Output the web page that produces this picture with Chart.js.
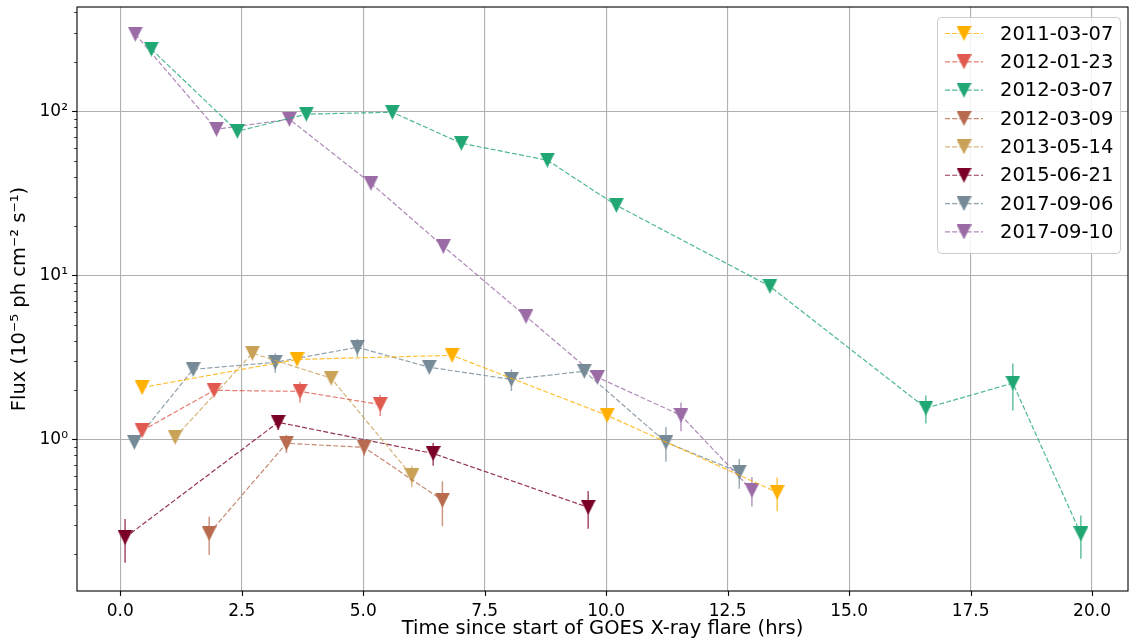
<!DOCTYPE html>
<html>
<head>
<meta charset="utf-8">
<script src="https://cdn.jsdelivr.net/npm/chart.js@4.4.1/dist/chart.umd.min.js"></script>
<style>
  html, body { margin: 0; padding: 0; background: #fff; }
  #wrap { width: 1129px; height: 641px; }
</style>
</head>
<body>
<div id="wrap"><canvas id="fluxChart"></canvas></div>
<script>
// flare dates and colours
const flareDates = ['2011-03-07', '2012-01-23', '2012-03-07', '2012-03-09',
                    '2013-05-14', '2015-06-21', '2017-09-06', '2017-09-10'];
const flareColors = ['#ffb000', '#e05a4f', '#20a774', '#b86b4e',
                     '#c9a257', '#7a0025', '#768a97', '#9b6ba6'];

// time since flare start (hrs), flux (1e-5 ph cm^-2 s^-1), flux error
const t20110307 = [0.45, 3.64, 6.83, 10.02, 13.52];
const f20110307 = [2.07, 3.07, 3.25, 1.40, 0.475];
const e20110307 = [0.08, 0.10, 0.10, 0.06, 0.11];

const t20120123 = [0.45, 1.93, 3.70, 5.35];
const f20120123 = [1.13, 1.99, 1.96, 1.63];
const e20120123 = [0.07, 0.10, 0.28, 0.24];

const t20120307 = [0.64, 2.41, 3.83, 5.60, 7.02, 8.79, 10.21, 13.37, 16.58, 18.37, 19.77];
const f20120307 = [239, 75.5, 96, 98.6, 63.8, 50.3, 26.7, 8.57, 1.55, 2.2, 0.265];
const e20120307 = [5, 2, 2, 2, 2, 1.5, 1, 0.5, 0.3, 0.7, 0.078];

const t20120309 = [1.83, 3.42, 5.02, 6.63];
const f20120309 = [0.267, 0.946, 0.894, 0.425];
const e20120309 = [0.07, 0.12, 0.10, 0.13];

const t20130514 = [1.13, 2.72, 4.34, 6.00];
const f20130514 = [1.03, 3.35, 2.36, 0.60];
const e20130514 = [0.05, 0.15, 0.10, 0.09];

const t20150621 = [0.10, 3.25, 6.44, 9.63];
const f20150621 = [0.252, 1.27, 0.82, 0.385];
const e20150621 = [0.075, 0.13, 0.13, 0.10];

const t20170906 = [0.29, 1.50, 3.19, 4.88, 6.36, 8.05, 9.55, 11.23, 12.74];
const f20170906 = [0.96, 2.67, 2.95, 3.64, 2.75, 2.32, 2.60, 0.96, 0.63];
const e20170906 = [0.06, 0.10, 0.40, 0.45, 0.15, 0.35, 0.15, 0.23, 0.13];

const t20170910 = [0.31, 1.98, 3.48, 5.16, 6.65, 8.35, 9.82, 11.54, 13.00];
const f20170910 = [295, 77.7, 89.4, 36.4, 15.0, 5.62, 2.39, 1.40, 0.489];
const e20170910 = [5, 2, 2, 1, 0.5, 0.2, 0.1, 0.28, 0.1];

const allTimes = [t20110307, t20120123, t20120307, t20120309, t20130514, t20150621, t20170906, t20170910];
const allFlux  = [f20110307, f20120123, f20120307, f20120309, f20130514, f20150621, f20170906, f20170910];
const allErr   = [e20110307, e20120123, e20120307, e20120309, e20130514, e20150621, e20170906, e20170910];

const xTickStep = 2.5;
const supDigits = {'-': '⁻', '0': '⁰', '1': '¹', '2': '²', '3': '³', '4': '⁴', '5': '⁵', '6': '⁶', '7': '⁷', '8': '⁸', '9': '⁹'};

function rgba(hex, a) {
    let r = parseInt(hex.slice(1, 3), 16);
    let g = parseInt(hex.slice(3, 5), 16);
    let b = parseInt(hex.slice(5, 7), 16);
    return `rgba(${r},${g},${b},${a})`
}

function markerImg(color, size) {
    let c = document.createElement('canvas');
    c.width = size; c.height = size;
    let g = c.getContext('2d');
    g.fillStyle = color;
    g.beginPath();
    g.moveTo(0, 0); g.lineTo(size, 0); g.lineTo(size / 2, size);
    g.closePath();
    g.fill();
    return c;
}

function isDecade(v) {
    let l = Math.log10(v);
    return Math.abs(l - Math.round(l)) < 1e-6;
}

const MSIZE = 15;
const markers = flareColors.map(c => markerImg(c, MSIZE));

const datasets = flareDates.map((d, i) => ({
    label: d,
    data: allTimes[i].map((t, j) => ({x: t, y: allFlux[i][j]})),
    errors: allErr[i],
    color: flareColors[i],
    marker: markers[i],
    borderColor: rgba(flareColors[i], 0.8),
    backgroundColor: flareColors[i],
    borderWidth: 1.2,
    borderDash: [5, 2.2],
    pointStyle: markers[i],
    pointRadius: 7.5,
    pointHoverRadius: 7.5,
    tension: 0,
    fill: false
}));

// vertical error bars, drawn under the lines and markers
const errorBars = {
    id: 'errorBars',
    beforeDatasetsDraw(chart) {
        const {ctx, scales: {x, y}} = chart;
        ctx.save();
        ctx.lineWidth = 1.5;
        chart.data.datasets.forEach(ds => {
            ctx.strokeStyle = rgba(ds.color, 0.7);
            ds.data.forEach((p, j) => {
                let e = ds.errors[j];
                let px = x.getPixelForValue(p.x);
                ctx.beginPath();
                ctx.moveTo(px, y.getPixelForValue(p.y + e));
                ctx.lineTo(px, y.getPixelForValue(Math.max(p.y - e, 1e-4)));
                ctx.stroke();
            });
        });
        ctx.restore();
    }
};

// matplotlib-like frame, ticks and legend box
const frameAndLegend = {
    id: 'frameAndLegend',
    afterDraw(chart) {
        const {ctx, chartArea: a, scales: {x, y}} = chart;
        ctx.save();
        ctx.strokeStyle = '#000';
        ctx.lineWidth = 1.1;
        ctx.strokeRect(a.left, a.top, a.right - a.left, a.bottom - a.top);

        x.ticks.forEach(t => {
            let px = Math.round(x.getPixelForValue(t.value)) + 0.5;
            ctx.beginPath(); ctx.moveTo(px, a.bottom); ctx.lineTo(px, a.bottom + 4.9); ctx.stroke();
        });
        y.ticks.forEach(t => {
            let py = Math.round(y.getPixelForValue(t.value)) + 0.5;
            let major = isDecade(t.value);
            ctx.lineWidth = major ? 1.1 : 0.8;
            ctx.beginPath(); ctx.moveTo(a.left, py); ctx.lineTo(a.left - (major ? 4.9 : 2.8), py); ctx.stroke();
        });

        // legend
        const w = 183, h = 236;
        const x0 = a.right - 8 - w, y0 = a.top + 10;
        ctx.fillStyle = 'rgba(255,255,255,0.85)';
        ctx.strokeStyle = '#cccccc';
        ctx.lineWidth = 1;
        ctx.beginPath();
        ctx.roundRect(x0 + 0.5, y0 + 0.5, w, h, 4);
        ctx.fill();
        ctx.stroke();

        ctx.font = '19.5px "DejaVu Sans"';
        ctx.textBaseline = 'middle';
        ctx.textAlign = 'left';
        chart.data.datasets.forEach((ds, i) => {
            let cy = y0 + 16.5 + i * 28.35;
            ctx.strokeStyle = rgba(ds.color, 0.8);
            ctx.lineWidth = 1.2;
            ctx.setLineDash([5, 2.2]);
            ctx.beginPath(); ctx.moveTo(x0 + 8, cy); ctx.lineTo(x0 + 46, cy); ctx.stroke();
            ctx.setLineDash([]);
            ctx.drawImage(ds.marker, x0 + 27 - MSIZE / 2, cy - MSIZE / 2);
            ctx.fillStyle = '#000';
            ctx.fillText(ds.label, x0 + 63, cy + 1);
        });
        ctx.restore();
    }
};

Chart.defaults.font.family = '"DejaVu Sans", sans-serif';
Chart.defaults.font.size = 17;
Chart.defaults.color = '#000';

const config = {
    type: 'line',
    data: {datasets: datasets},
    options: {
        responsive: true,
        maintainAspectRatio: false,
        animation: false,
        layout: {autoPadding: false, padding: {top: 7, right: 1, left: 0, bottom: 0}},
        plugins: {legend: {display: false}, tooltip: {enabled: false}},
        scales: {
            x: {
                type: 'linear',
                min: -0.89,
                max: 20.74,
                afterFit: s => {
                    s.height = 50;
                    s.paddingLeft = 0; s.paddingRight = 0;
                },
                border: {display: false},
                grid: {color: '#b0b0b0', lineWidth: 1.1, drawTicks: false},
                ticks: {
                    stepSize: xTickStep,
                    includeBounds: false,
                    autoSkip: false,
                    maxRotation: 0,
                    padding: 10,
                    callback: v => v.toFixed(1)
                },
                title: {
                    display: true,
                    text: 'Time since start of GOES X-ray flare (hrs)',
                    font: {size: 19.5},
                    padding: {top: 0, bottom: 0}
                }
            },
            y: {
                type: 'logarithmic',
                min: 0.119,
                max: 432,
                afterFit: s => {
                    s.width = 77;
                    s.paddingTop = 0; s.paddingBottom = 0;
                },
                afterBuildTicks: s => {
                    s.ticks = s.ticks.filter(t => {
                        let e = Math.floor(Math.log10(t.value) + 1e-9);
                        let m = t.value / Math.pow(10, e);
                        return Math.abs(m - Math.round(m)) < 1e-6 && t.value >= s.min && t.value <= s.max;
                    });
                },
                border: {display: false},
                grid: {
                    color: c => (c.tick && isDecade(c.tick.value)) ? '#b0b0b0' : 'rgba(0,0,0,0)',
                    lineWidth: 1.1,
                    drawTicks: false
                },
                ticks: {
                    autoSkip: false,
                    padding: 9,
                    callback: v => {
                        if (!isDecade(v)) return '';
                        let e = String(Math.round(Math.log10(v)));
                        return '10' + e.split('').map(ch => supDigits[ch]).join('');
                    }
                },
                title: {
                    display: true,
                    text: 'Flux (10⁻⁵ ph cm⁻² s⁻¹)',
                    font: {size: 19.5},
                    padding: {top: 8, bottom: 0}
                }
            }
        }
    },
    plugins: [errorBars, frameAndLegend]
};

new Chart(document.getElementById('fluxChart').getContext('2d'), config);
</script>
</body>
</html>
